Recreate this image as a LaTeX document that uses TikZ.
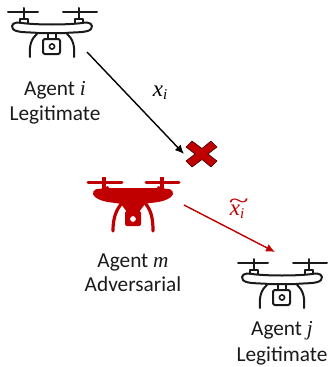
\documentclass[tikz,border=0pt]{standalone}
\usepackage{fontspec}
\setmainfont{Carlito}
\newfontfamily\varfont{Liberation Serif}
\usetikzlibrary{arrows.meta}
\definecolor{advred}{HTML}{C00000}
\definecolor{ink}{HTML}{1A1A1A}
\newcommand{\mi}[1]{{\varfont\itshape #1}}
\tikzset{
  x=1pt,y=-1pt,
  lab/.style={inner sep=0pt,font=\fontsize{21.3}{24}\selectfont,text=ink,anchor=base},
  conn/.style={line width=1.4pt,-{Latex[length=9pt,width=8pt]}},
  droneline/.style={draw=ink,line width=2pt,line join=round,line cap=round,fill=none},
  pics/outlinedrone/.style={code={
    \draw[droneline] (-44,0)--(-14,0) (11,0)--(45,0);
    \draw[droneline] (-28,-4)--(-28,7) (27,-4)--(27,7);
    \draw[droneline] (-32,11)--(-32,7)--(-24,7)--(-24,11) (23,11)--(23,7)--(31,7)--(31,11);
    \draw[droneline] (-30,11) .. controls (-15,13) and (15,13) .. (30,11)
       .. controls (38,9) and (42,13) .. (39,17)
       .. controls (36,21) and (22,20) .. (14,21)
       -- (-14,21)
       .. controls (-22,20) and (-36,21) .. (-39,17)
       .. controls (-42,13) and (-38,9) .. (-30,11) -- cycle;
    \draw[droneline] (-15,22) .. controls (-21,27) and (-23,34) .. (-22,45)
                     (15,22) .. controls (21,27) and (23,34) .. (22,45);
    \draw[droneline] (-4,22)--(-4,27) (4,22)--(4,27);
    \draw[droneline,rounded corners=2pt] (-9,27) rectangle (8,42);
    \draw[droneline,line width=1.6pt] (0,34.5) circle (2.6);
  }},
  pics/reddrone/.style={code={
    \draw[advred,line width=3pt,line cap=round] (-45,0)--(-11,0) (13,0)--(46,0);
    \draw[advred,line width=3.4pt] (-29,-5)--(-29,8) (29,-5)--(29,8);
    \fill[advred] (-33,7)--(-25,4)--(-24,6)--(24,6)--(25,4)--(33,7)
       .. controls (40,6) and (42,12) .. (38,15)
       .. controls (30,21) and (20,20) .. (12,22)
       -- (6,30) -- (-6,30) -- (-12,22)
       .. controls (-20,20) and (-30,21) .. (-38,15)
       .. controls (-42,12) and (-40,6) .. (-33,7) -- cycle;
    \draw[advred,line width=3.2pt,line cap=round] (-11,21) .. controls (-17,28) and (-20,36) .. (-20,49)
                     (12,21) .. controls (18,28) and (20,36) .. (20,49);
    \fill[advred,even odd rule,rounded corners=2pt] (-8,29) rectangle (8,44)
        (0,37) circle (3);
  }}
}
\begin{document}
\begin{tikzpicture}
\useasboundingbox (0,0) rectangle (328,367);
\pic at (52,12) {outlinedrone};
\pic at (282,263) {outlinedrone};
\pic at (133,182) {reddrone};
\node[lab] (ai) at (55,95) {Agent \mi{i}};
\node[lab] (li) at (55,120) {Legitimate};
\node[lab] (am) at (133,267) {Agent \mi{m}};
\node[lab] (lm) at (133,291) {Adversarial};
\node[lab] (aj) at (282,335) {Agent \mi{j}};
\node[lab] (lj) at (282,361) {Legitimate};
\coordinate (s1) at (87,52);
\coordinate (t1) at (184,154);
\coordinate (s2) at (184,205);
\coordinate (t2) at (275,252);
\draw[conn,draw=black] (s1)--(t1);
\draw[conn,draw=advred,fill=advred] (s2)--(t2);
\node[inner sep=0pt,font=\fontsize{23}{24}\selectfont] (xi) at (160,93) {\mi{x}\raisebox{-3pt}{\fontsize{15}{16}\selectfont\mi{i}}};
\node[inner sep=0pt,text=advred,font=\fontsize{23}{24}\selectfont] (txi) at (237,209) {\mi{\makebox[0pt][l]{\hspace{-1.5pt}\raisebox{7pt}{\scalebox{1.6}[1]{\~{}}}}x}\raisebox{-3pt}{\fontsize{15}{16}\selectfont\mi{i}}};
\draw[fill=advred,draw=black!70!advred,line width=.6pt,line join=round]
  (186,147)--(192,141)--(202,148.5)--(211,141)--(217,147)--(208,154)--(217,161)--(211,167)--(202,159.5)--(192,167)--(186,161)--(195,154)--cycle;
\end{tikzpicture}
\end{document}
